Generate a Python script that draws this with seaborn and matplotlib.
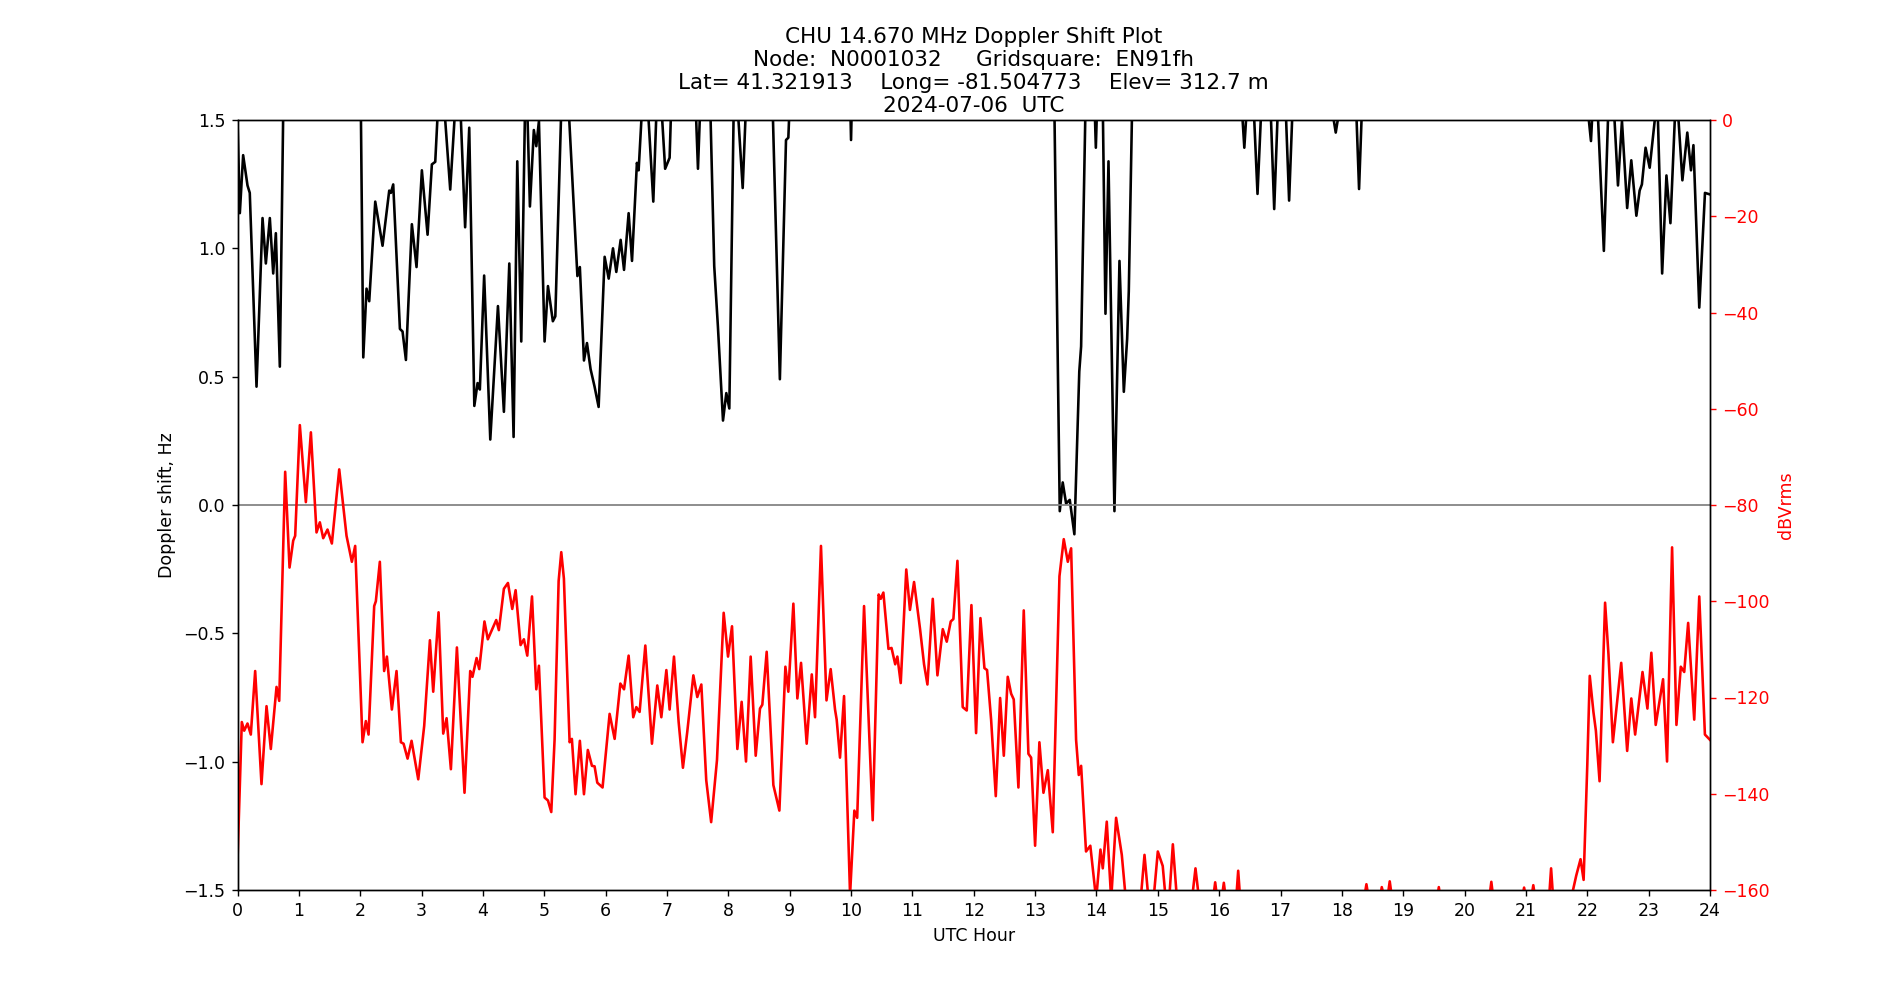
import matplotlib
matplotlib.use("Agg")
import matplotlib.pyplot as plt
import seaborn as sns
import numpy as np

# Doppler shift (Hz), values above 1.5 run off the top
doppler_hour = [0.0, 0.038, 0.092, 0.163, 0.20, 0.31, 0.408, 0.462, 0.527, 0.582, 0.625, 0.69, 0.76,
                2.00, 2.05, 2.103, 2.147, 2.245, 2.364, 2.473, 2.50, 2.538, 2.647, 2.69, 2.745, 2.842,
                2.918, 3.005, 3.098, 3.168, 3.223, 3.31, 3.467, 3.60, 3.71, 3.777, 3.86, 3.913, 3.95,
                4.02, 4.12, 4.245, 4.342, 4.43, 4.50, 4.56, 4.625, 4.70, 4.766, 4.83, 4.87, 4.913,
                5.005, 5.06, 5.14, 5.18, 5.32, 5.54, 5.58, 5.647, 5.696, 5.755, 5.82, 5.886, 5.984,
                6.05, 6.12, 6.174, 6.245, 6.30, 6.375, 6.43, 6.51, 6.538, 6.64, 6.777, 6.86, 6.97,
                7.043, 7.10, 7.43, 7.505, 7.58, 7.68, 7.77, 7.83, 7.913, 7.967, 8.016, 8.10, 8.234,
                8.32, 8.70, 8.84, 8.94, 8.978, 9.03, 9.97, 10.0, 10.03, 13.30, 13.402, 13.45,
                13.505, 13.565, 13.64, 13.72, 13.75, 13.79, 13.84, 13.94, 13.99, 14.04, 14.09,
                14.147, 14.196, 14.293, 14.375, 14.446, 14.50, 14.527, 14.60,
                16.33, 16.41, 16.49, 16.535, 16.625, 16.715, 16.815, 16.897, 16.98, 17.06, 17.14,
                17.22, 17.80, 17.90, 18.00, 18.21, 18.28, 18.35,
                21.94, 22.06, 22.13, 22.27, 22.37, 22.40, 22.50, 22.565, 22.65, 22.717, 22.80,
                22.853, 22.89, 22.95, 23.017, 23.10, 23.14, 23.22, 23.29, 23.355, 23.426, 23.46,
                23.55, 23.63, 23.69, 23.73, 23.825, 23.918, 24.0]
doppler_hz = [1.50, 1.137, 1.363, 1.245, 1.216, 0.461, 1.118, 0.941, 1.118, 0.902, 1.059, 0.539, 1.8,
              1.8, 0.575, 0.843, 0.794, 1.182, 1.01, 1.225, 1.216, 1.249, 0.686, 0.676, 0.565, 1.094,
              0.927, 1.304, 1.053, 1.327, 1.337, 1.75, 1.229, 1.75, 1.082, 1.47, 0.386, 0.475, 0.45,
              0.894, 0.255, 0.775, 0.363, 0.941, 0.265, 1.339, 0.637, 1.75, 1.163, 1.461, 1.398, 1.496,
              0.637, 0.853, 0.716, 0.735, 1.9, 0.892, 0.927, 0.563, 0.631, 0.529, 0.461, 0.382, 0.967,
              0.882, 1.0, 0.908, 1.033, 0.916, 1.137, 0.951, 1.333, 1.304, 1.75, 1.182, 1.75, 1.31,
              1.353, 1.8, 1.8, 1.31, 1.8, 1.8, 0.931, 0.696, 0.329, 0.436, 0.376, 1.75, 1.235,
              1.75, 1.75, 0.49, 1.422, 1.431, 1.75, 1.75, 1.422, 1.75, 1.8, -0.024, 0.088,
              0.006, 0.02, -0.114, 0.52, 0.618, 1.147, 1.8, 1.8, 1.392, 1.8, 1.8,
              0.745, 1.339, -0.024, 0.951, 0.441, 0.647, 0.833, 1.8,
              1.7, 1.392, 1.7, 1.7, 1.212, 1.7, 1.7, 1.153, 1.7, 1.7, 1.186,
              1.7, 1.6, 1.451, 1.6, 1.7, 1.231, 1.7,
              1.7, 1.418, 1.75, 0.99, 1.75, 1.7, 1.245, 1.496, 1.157, 1.343, 1.127,
              1.225, 1.249, 1.392, 1.314, 1.50, 1.6, 0.902, 1.284, 1.098, 1.50, 1.6,
              1.265, 1.451, 1.304, 1.402, 0.769, 1.216, 1.21]

# Signal level (dBVrms), values below -160 run off the bottom
level_hour = [0.0, 0.07, 0.109, 0.163, 0.217, 0.288, 0.391, 0.473, 0.543, 0.636, 0.68, 0.777, 0.848,
              0.908, 0.94, 1.016, 1.114, 1.196, 1.288, 1.342, 1.397, 1.467, 1.538, 1.658, 1.777,
              1.864, 1.918, 2.038, 2.092, 2.136, 2.228, 2.255, 2.32, 2.39, 2.435, 2.516, 2.592,
              2.663, 2.707, 2.772, 2.837, 2.946, 3.043, 3.136, 3.19, 3.277, 3.353, 3.408, 3.478,
              3.576, 3.70, 3.793, 3.83, 3.897, 3.94, 4.025, 4.08, 4.217, 4.26, 4.342, 4.408, 4.478,
              4.533, 4.614, 4.668, 4.723, 4.80, 4.87, 4.913, 5.005, 5.06, 5.114, 5.168, 5.234,
              5.277, 5.32, 5.413, 5.45, 5.51, 5.58, 5.647, 5.71, 5.777, 5.82, 5.864, 5.95, 6.065,
              6.147, 6.24, 6.30, 6.375, 6.45, 6.50, 6.554, 6.647, 6.755, 6.842, 6.908, 6.99, 7.043,
              7.114, 7.19, 7.26, 7.33, 7.43, 7.494, 7.56, 7.64, 7.72, 7.815, 7.924, 7.995, 8.06,
              8.147, 8.217, 8.288, 8.364, 8.446, 8.516, 8.554, 8.625, 8.734, 8.832, 8.93, 8.978,
              9.06, 9.125, 9.185, 9.277, 9.36, 9.413, 9.51, 9.60, 9.668, 9.739, 9.766, 9.82, 9.886,
              9.984, 10.054, 10.10, 10.212, 10.353, 10.45, 10.484, 10.527, 10.61, 10.66, 10.72,
              10.755, 10.81, 10.90, 10.96, 11.027, 11.125, 11.19, 11.245, 11.332, 11.408, 11.495,
              11.56, 11.625, 11.668, 11.734, 11.82, 11.886, 11.962, 12.038, 12.109, 12.174, 12.217,
              12.283, 12.359, 12.43, 12.49, 12.554, 12.609, 12.652, 12.728, 12.815, 12.891, 12.935,
              13.0, 13.07, 13.136, 13.207, 13.288, 13.397, 13.467, 13.533, 13.587, 13.668, 13.712,
              13.75, 13.83, 13.90, 13.995, 14.065, 14.103, 14.168, 14.24, 14.32, 14.413, 14.50,
              14.70, 14.783, 14.87, 14.93, 15.0, 15.08, 15.15, 15.18, 15.245, 15.33, 15.53, 15.614,
              15.70, 15.90, 15.935, 15.97, 16.04, 16.076, 16.11, 16.26, 16.31, 16.36, 18.36, 18.40,
              18.44, 18.62, 18.65, 18.70, 18.75, 18.78, 18.81, 19.55, 19.58, 19.61, 20.40, 20.436,
              20.47, 20.94, 20.97, 21.00, 21.09, 21.12, 21.15, 21.37, 21.41, 21.45, 21.75, 21.82,
              21.89, 21.94, 22.0, 22.04, 22.10, 22.14, 22.20, 22.29, 22.345, 22.417, 22.553, 22.65,
              22.717, 22.78, 22.90, 22.98, 23.044, 23.115, 23.235, 23.30, 23.382, 23.453, 23.524,
              23.58, 23.644, 23.743, 23.825, 23.917, 24.0]
level_db = [-154, -125.1, -126.9, -125.4, -127.7, -114.5, -138, -121.8, -130.7, -117.8, -120.7, -73.1, -93,
            -87.4, -86.4, -63.4, -79.4, -64.9, -85.7, -83.6, -86.9, -85.1, -88, -72.6, -86.4,
            -91.8, -88.5, -129.3, -124.9, -127.7, -101, -100, -91.8, -114.5, -111.5, -122.5, -114.5,
            -129.3, -129.6, -132.7, -129, -137, -125.9, -108.1, -118.8, -102.3, -127.5, -124.3, -134.9,
            -109.6, -139.8, -114.5, -115.7, -111.8, -114.1, -104.2, -107.9, -103.9, -106, -97.4, -96.2, -101.6,
            -97.7, -109.1, -107.9, -111.3, -99, -118.3, -113.4, -140.8, -141.4, -143.8, -128.8, -95.8,
            -89.8, -95.3, -129.3, -128.6, -140.1, -129, -140.1, -130.9, -134.2, -134.3, -137.7, -138.7, -123.4,
            -128.6, -117.1, -118.3, -111.3, -124.1, -122, -123, -109.2, -129.6, -117.5, -124.1, -114.3, -122.5,
            -111.5, -125.1, -134.6, -127.2, -115.4, -119.9, -117.3, -137.2, -145.9, -133, -102.4, -111.5, -105.2,
            -130.7, -120.9, -133.3, -111.5, -132.1, -122.3, -121.5, -110.5, -138.2, -143.5, -113.6, -118.8,
            -100.5, -120.2, -112.8, -129.6, -115.2, -124.1, -88.5, -120.6, -114.1, -122.5, -124.6, -132.5, -119.7,
            -161, -143.5, -145, -101, -145.5, -98.6, -99.5, -98.2, -109.9, -109.7, -113.1,
            -111.5, -117, -93.4, -101.8, -96, -105.8, -113.1, -117.3, -99.5, -115.4, -105.8,
            -108.4, -104.2, -103.7, -91.6, -122, -122.7, -100.8, -127.4, -103.5, -113.9, -114.3,
            -124.6, -140.5, -120.1, -132.1, -115.7, -119.2, -120.4, -138.7, -101.9, -131.7, -132.5,
            -150.8, -129.3, -139.8, -135.1, -148, -94.8, -87.1, -91.8, -89, -128.8, -136.1,
            -134.2, -152, -150.8, -162, -151.6, -155.5, -145.8, -162, -145, -152.7, -165,
            -165, -152.7, -165, -162, -152, -155, -165, -163, -150.5, -165, -165, -155.5,
            -165, -162, -158.4, -162, -162, -158.5, -162, -165, -156, -165, -162, -158.8,
            -162, -162, -159.4, -162, -161, -158.2, -161, -162, -159.4, -162, -162, -158.3,
            -162, -161.5, -159.5, -161.5, -161.5, -159, -161.5, -163, -155.5, -163, -161, -157,
            -153.6, -157.9, -134, -115.5, -123, -126.9, -137.4, -100.3, -111, -129.3, -112.8, -131.1,
            -120.2, -127.7, -114.7, -122.3, -110.7, -125.7, -116.2, -133.3, -88.8, -125.7, -113.6,
            -114.7, -104.5, -124.6, -99, -127.7, -128.8]

hour_ticks = list(range(0, 25))

title = ("CHU 14.670 MHz Doppler Shift Plot\n"
         "Node:  N0001032     Gridsquare:  EN91fh\n"
         "Lat= 41.321913    Long= -81.504773    Elev= 312.7 m\n"
         "2024-07-06  UTC")

fig, ax = plt.subplots(figsize=(15.2, 8), dpi=125)

sns.lineplot(x=doppler_hour, y=doppler_hz, ax=ax, color='black', linewidth=1.5,
             estimator=None, sort=False)
ax.axhline(0, color='grey', linewidth=1)
ax.set_xlim(0, 24)
ax.set_ylim(-1.5, 1.5)
ax.set_xticks(hour_ticks)
ax.set_xlabel('UTC Hour')
ax.set_ylabel('Doppler shift, Hz')
ax.set_title(title, fontsize=12.4, pad=4.5)

ax2 = ax.twinx()
sns.lineplot(x=level_hour, y=level_db, ax=ax2, color='red', linewidth=1.5,
             estimator=None, sort=False)
ax2.set_ylim(-160, 0)
ax2.set_ylabel('dBVrms', color='red')
ax2.tick_params(axis='y', colors='red')
ax2.set_xlim(0, 24)

fig.savefig('out.png', dpi=125)
